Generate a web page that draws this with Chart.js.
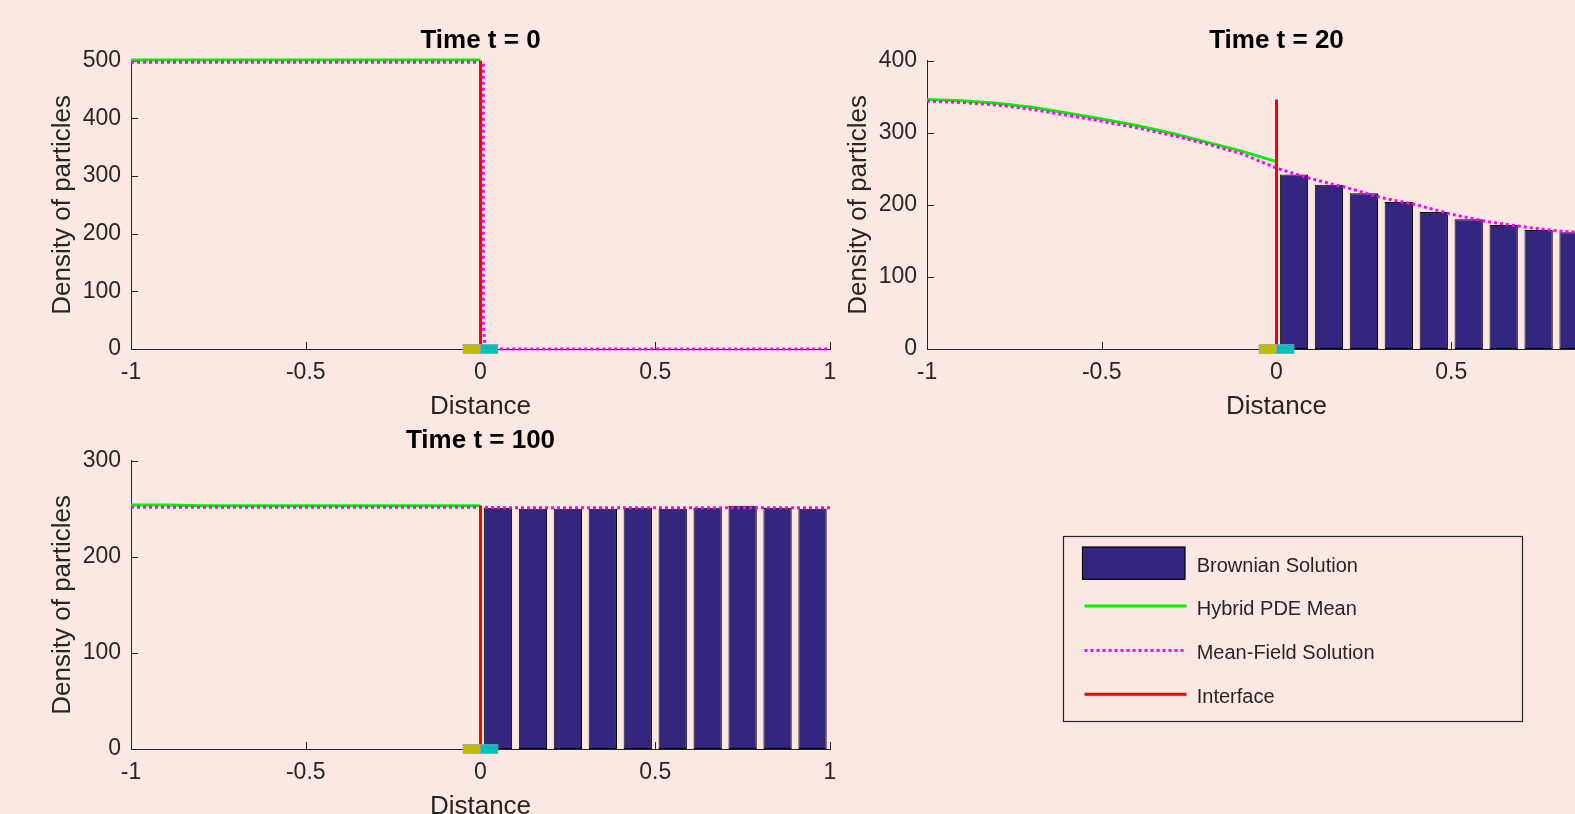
<!DOCTYPE html>
<html lang="en">
<head>
<meta charset="UTF-8">
<title>Hybrid PDE / Brownian diffusion</title>
<script src="https://cdn.jsdelivr.net/npm/chart.js"></script>
<style>
  html, body { margin: 0; padding: 0; width: 1575px; height: 814px; overflow: hidden; background: #fce8e3; }
  canvas.plot { position: absolute; }
</style>
</head>
<body>
<canvas id="plot0" class="plot" width="900" height="424" style="left:0px;top:0px"></canvas>
<canvas id="plot20" class="plot" width="900" height="424" style="left:796px;top:0px"></canvas>
<canvas id="plot100" class="plot" width="1575" height="424" style="left:0px;top:400px"></canvas>
<script>
// ---- data ----
const binCentres = [0.05, 0.15, 0.25, 0.35, 0.45, 0.55, 0.65, 0.75, 0.85, 0.95];
const brownianT0 = [0, 0, 0, 0, 0, 0, 0, 0, 0, 0];
const brownianT20 = [242, 228, 216, 204, 190, 180, 172, 165, 162, 158];
const brownianT100 = [251, 250, 250, 250, 251, 250, 251, 253, 251, 250];

const pdeX = [-1, -0.9, -0.8, -0.7, -0.6, -0.5, -0.4, -0.3, -0.2, -0.1, 0];
const pdeT0 = [501, 501, 501, 501, 501, 501, 501, 501, 501, 501, 501];
const pdeT20 = [346, 344.6, 341, 335.3, 327.5, 319, 310, 299.3, 287, 274.5, 260];
const pdeT100 = [254, 254, 253, 253, 253, 253, 253, 253, 253, 253, 253];

const meanFieldX = [-1, -0.9, -0.8, -0.7, -0.6, -0.5, -0.4, -0.3, -0.2, -0.1, 0,
                    0.1, 0.2, 0.3, 0.4, 0.5, 0.6, 0.7, 0.8, 0.9, 1];
const meanFieldT20 = [344, 342, 338.5, 332.5, 324.5, 316, 307, 296.5, 284.5, 271, 251,
                      236, 224, 210, 200, 187, 177, 170, 164, 161, 159];
const meanFieldT100 = [251.5, 251.5, 251.5, 251.5, 251.5, 251.5, 251.5, 251.5, 251.5, 251.5, 251.5,
                       251, 251, 251, 251, 251, 251, 251, 251, 251, 251];
const meanFieldT0X = [-1, 0.008, 0.008, 0.014, 1];
const meanFieldT0 = [497.5, 497.5, 40, 0, 0];

const interfaceX = 0;
const interfaceTop = [500, 346, 253];

const compartmentLeft = [-0.05, 0];
const compartmentRight = [0, 0.05];

const titles = ['Time t = 0', 'Time t = 20', 'Time t = 100'];
const yMax = [500, 400, 300];
const seriesNames = ['Brownian Solution', 'Hybrid PDE Mean', 'Mean-Field Solution', 'Interface'];

// ---- styling ----
const BG = '#fce8e3';
const INK = '#262626';
const FONT = "'Liberation Sans', Arial, Helvetica, sans-serif";
Chart.defaults.font.family = FONT;
Chart.defaults.color = INK;

const pts = (xs, ys) => xs.map((x, i) => ({ x: x, y: ys[i] }));

// small inward ticks like the MATLAB axes
const inwardTicks = {
  id: 'inwardTicks',
  beforeDatasetsDraw(chart) {
    const { ctx, chartArea: a, scales: { x, y } } = chart;
    ctx.save();
    ctx.strokeStyle = INK;
    ctx.lineWidth = 1;
    ctx.beginPath();
    x.ticks.forEach(t => {
      const px = Math.round(x.getPixelForValue(t.value)) + 0.5;
      ctx.moveTo(px, a.bottom);
      ctx.lineTo(px, a.bottom - 7);
    });
    y.ticks.forEach(t => {
      const py = Math.round(y.getPixelForValue(t.value)) + 0.5;
      ctx.moveTo(a.left, py);
      ctx.lineTo(a.left + 7, py);
    });
    ctx.stroke();
    ctx.restore();
  }
};

// yellow / cyan compartment markers at the interface
const compartments = {
  id: 'compartments',
  afterDatasetsDraw(chart) {
    const { ctx, chartArea: a, scales: { x } } = chart;
    const half = 4.7;
    ctx.save();
    [[compartmentLeft, '#bfbf00'], [compartmentRight, '#00bfbf']].forEach(([r, c]) => {
      const x0 = x.getPixelForValue(r[0]);
      const x1 = x.getPixelForValue(r[1]);
      ctx.fillStyle = c;
      ctx.fillRect(x0, a.bottom - half, x1 - x0, half * 2);
      ctx.strokeStyle = '#a0a0a0';
      ctx.lineWidth = 0.6;
      ctx.strokeRect(x0, a.bottom - half, x1 - x0, half * 2);
    });
    ctx.restore();
  }
};

// boxed legend drawn to the right of the last subplot
const boxLegend = {
  id: 'boxLegend',
  afterDraw(chart) {
    const ctx = chart.ctx;
    const ds = chart.data.datasets;
    ctx.save();
    ctx.fillStyle = BG;
    ctx.fillRect(1063.5, 136.5, 459, 185);
    ctx.strokeStyle = INK;
    ctx.lineWidth = 1.2;
    ctx.strokeRect(1063.5, 136.5, 459, 185);
    const rows = [163.5, 206, 250.5, 294.3];
    ds.forEach((d, i) => {
      const yy = rows[i];
      if (d.type === 'bar') {
        ctx.fillStyle = d.backgroundColor;
        ctx.fillRect(1082.5, 147, 102.5, 32.3);
        ctx.strokeStyle = '#000';
        ctx.lineWidth = 1.2;
        ctx.strokeRect(1082.5, 147, 102.5, 32.3);
      } else {
        ctx.strokeStyle = d.borderColor;
        ctx.lineWidth = d.borderWidth;
        ctx.setLineDash(d.borderDash || []);
        ctx.beginPath();
        ctx.moveTo(1084.5, yy);
        ctx.lineTo(1186.5, yy);
        ctx.stroke();
        ctx.setLineDash([]);
      }
      ctx.fillStyle = INK;
      ctx.font = '20px ' + FONT;
      ctx.textBaseline = 'middle';
      ctx.fillText(d.label, 1196.7, yy + 3);
    });
    ctx.restore();
  }
};

function makeSubplot(id, k, bars, greenX, green, magX, magenta, rightPad, extraPlugins) {
  return new Chart(document.getElementById(id), {
    type: 'line',
    data: {
      datasets: [
        {
          type: 'bar', label: seriesNames[0], data: pts(binCentres, bars),
          backgroundColor: '#33267f', borderColor: '#000000', borderWidth: 1,
          borderSkipped: false, barPercentage: 0.81, categoryPercentage: 1, order: 4
        },
        {
          label: seriesNames[1], data: pts(greenX, green), clip: 4,
          borderColor: '#00f000', borderWidth: 3, pointRadius: 0, tension: 0, order: 3
        },
        {
          label: seriesNames[2], data: pts(magX, magenta), clip: 4,
          borderColor: '#ff00ff', borderWidth: 3, borderDash: [3, 3], pointRadius: 0, tension: 0, order: 2
        },
        {
          label: seriesNames[3], data: [{ x: interfaceX, y: 0 }, { x: interfaceX, y: interfaceTop[k] }],
          borderColor: '#ff0000', borderWidth: 3, pointRadius: 0, order: 1
        }
      ]
    },
    options: {
      responsive: false,
      animation: false,
      events: [],
      layout: { padding: { left: 0, top: 0, right: rightPad, bottom: 0 } },
      plugins: {
        legend: { display: false },
        tooltip: { enabled: false },
        title: {
          display: true, text: titles[k], fullSize: false, color: '#000',
          font: { size: 26, weight: 'bold' }, padding: { top: 25, bottom: 4.5 }
        }
      },
      scales: {
        x: {
          type: 'linear', min: -1, max: 1, offset: false,
          grid: { display: false, drawTicks: false, offset: false },
          border: { display: true, color: INK, width: 1 },
          ticks: { stepSize: 0.5, padding: 10, font: { size: 23 }, color: INK, maxRotation: 0,
                   callback: v => String(v) },
          title: { display: true, text: 'Distance', font: { size: 26 }, color: INK,
                   padding: { top: 0, bottom: 1.4 } },
          afterFit: s => { s.height = 75; }
        },
        y: {
          min: 0, max: yMax[k],
          grid: { display: false, drawTicks: false },
          border: { display: true, color: INK, width: 1 },
          ticks: { stepSize: 100, padding: 10, font: { size: 23 }, color: INK },
          title: { display: true, text: 'Density of particles', font: { size: 26 }, color: INK,
                   padding: { top: 47.4, bottom: 0 } },
          afterFit: s => { s.width = 131; }
        }
      }
    },
    plugins: [inwardTicks, compartments].concat(extraPlugins)
  });
}

makeSubplot('plot0', 0, brownianT0, pdeX, pdeT0, meanFieldT0X, meanFieldT0, 70, []);
makeSubplot('plot20', 1, brownianT20, pdeX, pdeT20, meanFieldX, meanFieldT20, 70, []);
makeSubplot('plot100', 2, brownianT100, pdeX, pdeT100, meanFieldX, meanFieldT100, 745, [boxLegend]);
</script>
</body>
</html>
